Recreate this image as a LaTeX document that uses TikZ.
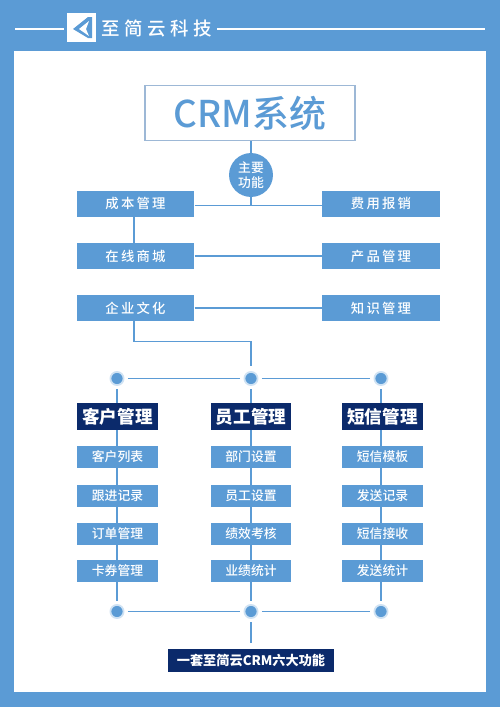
\documentclass[tikz,border=0pt]{standalone}
\usepackage{fontspec}
\usepackage{xcolor}
\setmainfont{Noto Sans CJK SC}
\newfontfamily\crmmed{Noto Sans CJK SC Medium}
\usetikzlibrary{positioning}
\definecolor{crmblue}{HTML}{5B9BD5}
\definecolor{crmnavy}{HTML}{0B2A6B}
\definecolor{crmring}{HTML}{CFE2F3}
\definecolor{crmedge}{HTML}{9DB8D6}
\tikzset{
  link/.style={draw=crmblue, line width=0.8pt},
  gaplink/.style={link, shorten <=2pt, shorten >=2pt},
  mainbox/.style={fill=crmblue, text=white, minimum width=67pt, minimum height=14.8pt, inner sep=0pt, font=\fontsize{7.6}{10}\selectfont\crmmed},
  headbox/.style={fill=crmnavy, text=white, minimum width=45.6pt, minimum height=15pt, inner sep=0pt, font=\fontsize{10}{11}\selectfont\bfseries},
  subbox/.style={fill=crmblue, text=white, minimum width=45.6pt, minimum height=12.8pt, inner sep=0pt, font=\fontsize{7.3}{9}\selectfont\crmmed},
  dot/.style={circle, fill=crmblue, draw=crmring, line width=1pt, minimum size=7.5pt, inner sep=0pt}
}
\begin{document}
\begin{tikzpicture}[x=0.02cm, y=-0.02cm]
  \fill[crmblue] (0,0) rectangle (500,707);
  \useasboundingbox (0,0) rectangle (500,707);
  \fill[white] (14,51) rectangle (486,692);
  % header
  \coordinate (ruleA) at (15,29);
  \coordinate (ruleB) at (64,29);
  \coordinate (ruleC) at (217,29);
  \coordinate (ruleD) at (485,29);
  \draw[white, line width=1.5pt] (ruleA) -- (ruleB);
  \draw[white, line width=1.5pt] (ruleC) -- (ruleD);
  \fill[white] (67,13) rectangle (96,41.5);
  \fill[crmblue] (73,29) -- (88,17) -- (92,17) -- (92,38) -- (88,38) -- cycle;
  \fill[white] (79,29) -- (89,21) -- (86,29) -- (89,36) -- cycle;
  \node[text=white, font=\fontsize{10.5}{14}\selectfont\crmmed, inner sep=0pt] (brand) at (156.5,28) {至\hspace{2.6pt}简\hspace{2.6pt}云\hspace{2.6pt}科\hspace{2.6pt}技};
  % title
  \node[draw=crmedge, line width=0.8pt, fill=white, minimum width=119.5pt, minimum height=31.5pt, inner sep=0pt, text=crmblue, font=\fontsize{21}{24}\selectfont\crmmed] (crm) at (250,113) {CRM系统};
  \node[circle, fill=crmblue, text=white, minimum size=25pt, inner sep=0pt, align=center, font=\fontsize{7.3}{8.6}\selectfont\crmmed] (func) at (251,175) {主要\\功能};
  % main boxes
  \node[mainbox] (cost) at (135.5,203.5) {成\,本\,管\,理};
  \node[mainbox] (fee) at (381,203.5) {费\,用\,报\,销};
  \node[mainbox] (shop) at (135.5,256) {在\,线\,商\,城};
  \node[mainbox] (prod) at (381,256) {产\,品\,管\,理};
  \node[mainbox] (corp) at (135.5,308) {企\,业\,文\,化};
  \node[mainbox] (know) at (381,308) {知\,识\,管\,理};
  \coordinate (join) at (251,205.5);
  \coordinate (bend) at (251,366);
  \draw[link] (crm.south -| func) -- (func);
  \draw[link] (func) -- (join);
  \draw[link] (cost.east |- join) -- (fee.west |- join);
  \draw[link] ([xshift=-0.8pt]cost.south) -- ([xshift=-0.8pt]shop.north);
  \draw[link] (shop) -- (prod);
  \draw[link] (corp) -- (know);
  \draw[link] ([xshift=-0.8pt]corp.south) -- ++(0,20) -| (bend);
  % columns
  \node[dot] (dotA) at (117,378.5) {};
  \node[dot] (dotB) at (251,378.5) {};
  \node[dot] (dotC) at (381,378.5) {};
  \node[dot] (dotD) at (117,611.5) {};
  \node[dot] (dotE) at (251,611.5) {};
  \node[dot] (dotF) at (381,611.5) {};
  \draw[gaplink] (dotA) -- (dotB);
  \draw[gaplink] (dotB) -- (dotC);
  \draw[gaplink] (dotD) -- (dotE);
  \draw[gaplink] (dotE) -- (dotF);
  \draw[gaplink] (dotA) -- (dotD);
  \draw[gaplink] (dotB) -- (dotE);
  \draw[gaplink] (dotC) -- (dotF);
  \foreach \nm/\cx/\head/\subA/\subB/\subC/\subD in {
    cust/117.5/客户管理/客户列表/跟进记录/订单管理/卡券管理,
    staff/251/员工管理/部门设置/员工设置/绩效考核/业绩统计,
    sms/382.5/短信管理/短信模板/发送记录/短信接收/发送统计}{
    \node[headbox] (\nm head) at (\cx,416.5) {\head};
    \node[subbox] (\nm A) at (\cx,457) {\subA};
    \node[subbox] (\nm B) at (\cx,496) {\subB};
    \node[subbox] (\nm C) at (\cx,534) {\subC};
    \node[subbox] (\nm D) at (\cx,571) {\subD};
  }
  \node[fill=crmnavy, text=white, minimum width=94pt, minimum height=13.5pt, inner sep=0pt, font=\fontsize{7.5}{9}\selectfont\bfseries] (suite) at (251,660.5) {一套至简云CRM六大功能};
  \draw[gaplink, shorten >=3pt] (dotE) -- (suite);
\end{tikzpicture}
\end{document}
